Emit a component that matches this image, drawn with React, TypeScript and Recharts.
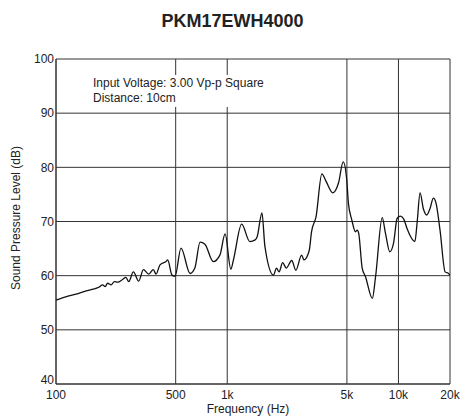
import { LineChart, Line, XAxis, YAxis, CartesianGrid } from "recharts";

// frequency in Hz
const freqs = [
  100, 114, 131, 150, 164, 179, 187, 194, 200, 210, 219, 229, 245, 256, 266,
  283, 304, 324, 348, 370, 384, 405, 439, 449, 476, 496, 537, 607, 647, 694,
  741, 829, 906, 972, 1050, 1087, 1214, 1355, 1456, 1496, 1595, 1660, 1862,
  1940, 2008, 2108, 2212, 2381, 2517, 2719, 2806, 3010, 3107, 3302, 3570,
  3780, 4136, 4465, 4756, 4990, 5100, 5340, 5610, 5740, 5860, 6140, 6420,
  7040, 7350, 8040, 8400, 8900, 9360, 9830, 10280, 10760, 11250, 12470,
  12870, 13370, 13990, 14630, 15290, 15990, 16570, 17490, 18730, 19600, 20000,
];

// sound pressure level in dB
const spl = [
  55.5, 56.1, 56.6, 57.2, 57.5, 57.9, 58.3, 58.0, 58.6, 58.3, 58.9, 58.8,
  59.3, 59.7, 58.9, 60.7, 59.0, 61.1, 60.3, 61.1, 60.3, 62.0, 62.6, 62.9,
  60.1, 59.9, 65.1, 60.4, 61.4, 66.2, 65.8, 62.6, 63.8, 67.7, 61.2, 62.9,
  69.5, 66.3, 66.6, 67.2, 71.6, 65.4, 60.1, 61.4, 60.7, 62.4, 61.4, 62.8,
  61.0, 63.8, 62.9, 64.6, 68.1, 70.9, 78.8, 77.4, 75.3, 77.1, 81.0, 77.7,
  73.4, 70.3, 68.1, 68.4, 67.8, 61.4, 59.8, 55.8, 59.8, 70.7, 67.8, 64.4,
  66.0, 70.6, 71.0, 70.4, 68.6, 66.3, 70.0, 75.3, 72.3, 71.2, 72.4, 74.3,
  73.4, 68.4, 60.7, 60.4, 60.1,
];

const xTicks = [100, 500, 1000, 5000, 10000, 20000];
const xTickLabels = ["100", "500", "1k", "5k", "10k", "20k"];
const yTicks = [40, 50, 60, 70, 80, 90, 100];

const data = freqs.map((f, i) => ({ f, spl: spl[i] }));

const font = "'Liberation Sans', Arial, Helvetica, sans-serif";
const tickStyle = { fontSize: 12, fill: "#222", fontFamily: font };

// y tick: the bottom label sits a little above the axis, as in the source
function YTick(props: any) {
  const { x, y, payload } = props;
  const lift = payload.value === 40 ? -4 : 0;
  return (
    <text
      x={x}
      y={y + lift}
      dy="0.355em"
      textAnchor="end"
      fontSize={12}
      fill="#222"
      fontFamily={font}
    >
      {payload.value}
    </text>
  );
}

export default function App() {
  return (
    <div
      style={{
        position: "absolute",
        left: 0,
        top: 0,
        width: 465,
        height: 416,
        background: "#fff",
        fontFamily: font,
        color: "#222",
      }}
    >
      <LineChart
        width={465}
        height={416}
        data={data}
        margin={{ top: 59, right: 15, left: 16, bottom: 2 }}
      >
        <CartesianGrid stroke="#333" strokeWidth={1} />
        <XAxis
          dataKey="f"
          type="number"
          scale="log"
          domain={[100, 20000]}
          ticks={xTicks}
          tickFormatter={(v: number) => xTickLabels[xTicks.indexOf(v)] ?? ""}
          allowDataOverflow
          height={30}
          tickSize={0}
          tickMargin={6}
          stroke="#333"
          tick={tickStyle}
        />
        <YAxis
          type="number"
          domain={[40, 100]}
          ticks={yTicks}
          width={40}
          tickSize={0}
          tickMargin={2}
          stroke="#333"
          tick={<YTick />}
        />
        <Line
          dataKey="spl"
          type="monotone"
          stroke="#111"
          strokeWidth={1.3}
          dot={false}
          isAnimationActive={false}
        />
      </LineChart>
      <div
        style={{
          position: "absolute",
          left: 0,
          top: 11,
          width: 465,
          textAlign: "center",
          fontSize: 18,
          lineHeight: "20px",
          fontWeight: "bold",
        }}
      >
        PKM17EWH4000
      </div>
      <div
        style={{
          position: "absolute",
          left: 89,
          top: 75,
          padding: "1px 4px",
          background: "#fff",
          fontSize: 12,
          lineHeight: "15px",
        }}
      >
        Input Voltage: 3.00 Vp-p Square
        <br />
        Distance: 10cm
      </div>
      <div
        style={{
          position: "absolute",
          left: 148,
          top: 402,
          width: 200,
          textAlign: "center",
          fontSize: 12,
          lineHeight: "14px",
        }}
      >
        Frequency (Hz)
      </div>
      <div
        style={{
          position: "absolute",
          left: -84,
          top: 211,
          width: 200,
          height: 14,
          textAlign: "center",
          fontSize: 12,
          lineHeight: "14px",
          transform: "rotate(-90deg)",
        }}
      >
        Sound Pressure Level (dB)
      </div>
    </div>
  );
}
